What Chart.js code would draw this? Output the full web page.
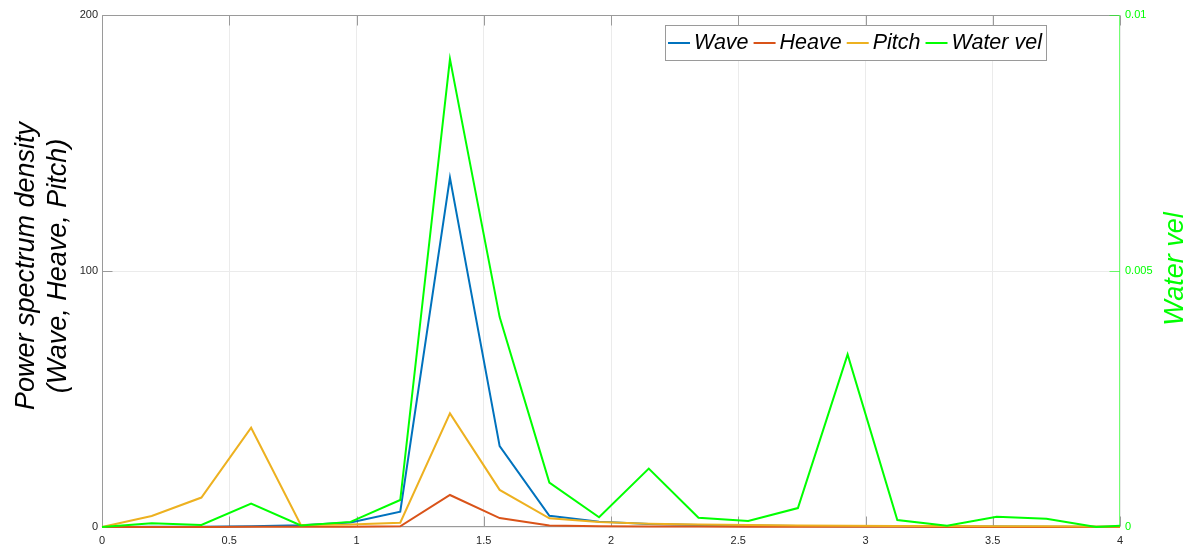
<!DOCTYPE html>
<html>
<head>
<meta charset="utf-8">
<script src="https://cdn.jsdelivr.net/npm/chart.js@4.4.1/dist/chart.umd.min.js"></script>
<style>
  html, body { margin: 0; padding: 0; background: #fff; overflow: hidden; }
  #wrap { width: 1195px; height: 547px; position: relative; }
</style>
</head>
<body>
<div id="wrap"><canvas id="c"></canvas></div>
<script>
// Frequency bins (Hz) and spectral estimates per channel
const freq = [0, 0.1953, 0.3906, 0.5859, 0.7813, 0.9766, 1.1719, 1.3672, 1.5625, 1.7578, 1.9531,
              2.1484, 2.3438, 2.5391, 2.7344, 2.9297, 3.1250, 3.3203, 3.5156, 3.7109, 3.9063, 4.1016];
const wave = [0, 0.05, 0.1, 0.3, 0.7, 1.8, 6.0, 136.5, 31.6, 4.4, 2.1,
              1.2, 0.8, 0.6, 0.4, 0.3, 0.25, 0.2, 0.15, 0.12, 0.1, 0.1];
const heave = [0, 0, 0, 0.05, 0.1, 0.1, 0.3, 12.5, 3.5, 0.6, 0.3,
               0.2, 0.15, 0.1, 0.08, 0.06, 0.05, 0.04, 0.03, 0.03, 0.02, 0.02];
const pitch = [0, 4.3, 11.5, 38.8, 0.8, 1.0, 1.7, 44.4, 14.5, 3.4, 2.0,
               1.3, 1.0, 0.8, 0.6, 0.5, 0.4, 0.35, 0.3, 0.25, 0.2, 0.2];
const waterVel = [0, 0.000072, 0.00004, 0.000455, 0.00003, 0.0001, 0.000527, 0.00914, 0.0041, 0.000866, 0.00019,
                  0.00114, 0.00018, 0.000117, 0.00037, 0.00337, 0.000137, 0.000025, 0.0002, 0.00016, 0.0, 0.00005];

const seriesNames = ['Wave', 'Heave', 'Pitch', 'Water vel'];
const xTicks = [0, 0.5, 1, 1.5, 2, 2.5, 3, 3.5, 4];
const yLeftTicks = [0, 100, 200];
const yRightTicks = [0, 0.005, 0.01];
const yLeftTitle = ['Power spectrum density', '(Wave, Heave, Pitch)'];
const yRightTitle = 'Water vel';

const COLORS = ['#0072BD', '#D95319', '#EDB120', '#00FF00'];
const FONT = "'Liberation Sans', Arial, Helvetica, sans-serif";
const AXIS = '#9a9a9a';
const GRID = '#ebebeb';
const GREEN = '#00ff00';

Chart.defaults.font.family = FONT;
Chart.defaults.font.size = 11;

const pts = arr => freq.map((x, i) => ({ x: x, y: arr[i] }));
const ticksFrom = arr => function (scale) { scale.ticks = arr.map(v => ({ value: v })); };

// Box and inward tick marks sit under the curves; legend and titles on top
const decor = {
  id: 'decor',
  beforeDatasetsDraw(chart) {
    const { ctx, chartArea: a, scales } = chart;
    const L = Math.round(a.left) + 0.5, R = Math.round(a.right) - 0.5;
    const T = Math.round(a.top) + 0.5, B = Math.round(a.bottom) - 0.5;
    const tl = 10;
    ctx.save();
    ctx.lineWidth = 1;
    ctx.strokeStyle = AXIS;
    ctx.beginPath();
    ctx.moveTo(R, T); ctx.lineTo(L, T); ctx.lineTo(L, B); ctx.lineTo(R, B);
    xTicks.forEach(v => {
      const px = Math.round(scales.x.getPixelForValue(v)) + 0.5;
      ctx.moveTo(px, B); ctx.lineTo(px, B - tl);
      ctx.moveTo(px, T); ctx.lineTo(px, T + tl);
    });
    yLeftTicks.forEach(v => {
      const py = Math.round(scales.y.getPixelForValue(v)) + 0.5;
      ctx.moveTo(L, py); ctx.lineTo(L + tl, py);
    });
    ctx.stroke();
    ctx.strokeStyle = 'rgba(0,255,0,0.55)';
    ctx.beginPath();
    ctx.moveTo(R, T); ctx.lineTo(R, B);
    yRightTicks.forEach(v => {
      const py = Math.round(scales.y2.getPixelForValue(v)) + 0.5;
      ctx.moveTo(R, py); ctx.lineTo(R - tl, py);
    });
    ctx.stroke();
    ctx.restore();
  },
  afterDraw(chart) {
    const { ctx } = chart;
    ctx.save();
    // legend
    const lx0 = 665, ly0 = 25, lx1 = 1047, ly1 = 61;
    ctx.fillStyle = '#fff';
    ctx.fillRect(lx0, ly0, lx1 - lx0, ly1 - ly0);
    ctx.strokeStyle = AXIS;
    ctx.lineWidth = 1;
    ctx.strokeRect(lx0 + 0.5, ly0 + 0.5, lx1 - lx0 - 1, ly1 - ly0 - 1);
    ctx.font = 'italic 21.5px ' + FONT;
    ctx.textBaseline = 'middle';
    ctx.textAlign = 'left';
    let x = 668;
    const cy = 43;
    chart.data.datasets.forEach(ds => {
      ctx.strokeStyle = ds.borderColor;
      ctx.lineWidth = 2;
      ctx.beginPath();
      ctx.moveTo(x, cy); ctx.lineTo(x + 22, cy);
      ctx.stroke();
      x += 26;
      ctx.fillStyle = '#000';
      ctx.fillText(ds.label, x, cy);
      x += ctx.measureText(ds.label).width + 5;
    });
    // axis titles
    ctx.font = 'italic 27px ' + FONT;
    ctx.textAlign = 'center';
    ctx.fillStyle = '#000';
    ctx.save();
    ctx.translate(26, 266);
    ctx.rotate(-Math.PI / 2);
    ctx.fillText(yLeftTitle[0], 0, 0);
    ctx.fillText(yLeftTitle[1], 0, 32);
    ctx.restore();
    ctx.save();
    ctx.translate(1175, 269);
    ctx.rotate(-Math.PI / 2);
    ctx.fillStyle = GREEN;
    ctx.fillText(yRightTitle, 0, 0);
    ctx.restore();
    ctx.restore();
  }
};

const series = [wave, heave, pitch, waterVel];
new Chart(document.getElementById('c'), {
  type: 'line',
  data: {
    datasets: series.map((arr, i) => ({
      label: seriesNames[i],
      data: pts(arr),
      borderColor: COLORS[i],
      backgroundColor: COLORS[i],
      borderWidth: 2,
      pointRadius: 0,
      tension: 0,
      yAxisID: i === 3 ? 'y2' : 'y',
      order: 3 - i,
      clip: { left: 1, top: 1, right: 0, bottom: 2 }
    }))
  },
  options: {
    responsive: true,
    maintainAspectRatio: false,
    animation: false,
    devicePixelRatio: 1,
    layout: { padding: { top: 15, left: 0, right: 0, bottom: 0 } },
    plugins: { legend: { display: false }, tooltip: { enabled: false } },
    scales: {
      x: {
        type: 'linear', min: 0, max: 4,
        afterBuildTicks: ticksFrom(xTicks),
        afterFit: s => { s.height = 20; },
        grid: { color: GRID, drawTicks: false },
        border: { display: false },
        ticks: { color: '#262626', padding: 7, maxRotation: 0, callback: v => String(v) }
      },
      y: {
        type: 'linear', position: 'left', min: 0, max: 200,
        afterBuildTicks: ticksFrom(yLeftTicks),
        afterFit: s => { s.width = 102; },
        grid: { color: GRID, drawTicks: false },
        border: { display: false },
        ticks: { color: '#262626', padding: 4, callback: v => String(v) }
      },
      y2: {
        type: 'linear', position: 'right', min: 0, max: 0.01,
        afterBuildTicks: ticksFrom(yRightTicks),
        afterFit: s => { s.width = 75; },
        grid: { display: false, drawTicks: false },
        border: { display: false },
        ticks: { color: GREEN, padding: 5, callback: v => String(v) }
      }
    }
  },
  plugins: [decor]
});
</script>
</body>
</html>
